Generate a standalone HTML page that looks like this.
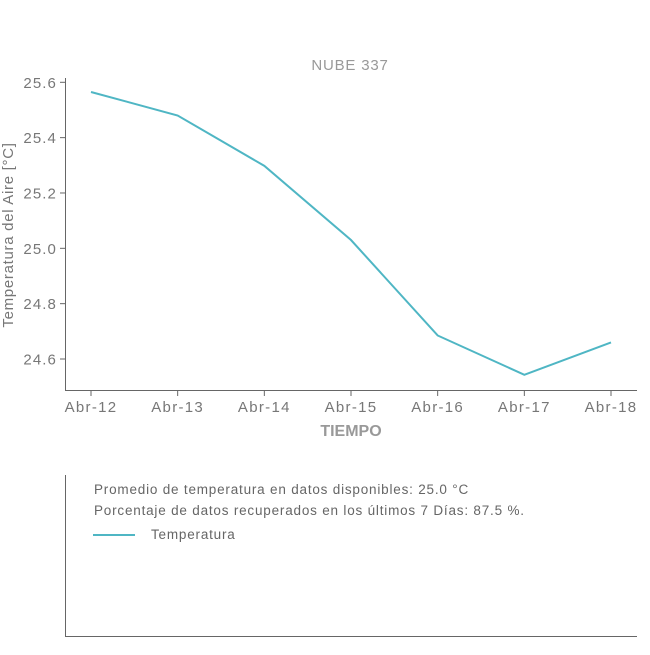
<!DOCTYPE html>
<html><head><meta charset="utf-8"><style>
body{margin:0;background:#fff;font-family:"Liberation Sans",sans-serif;}
svg text{font-family:"Liberation Sans",sans-serif;}
</style></head><body>
<svg width="650" height="650">
<text x="350" y="70" text-anchor="middle" font-size="15" fill="#999" letter-spacing="0.8">NUBE 337</text>
<g id="axes"></g>
<text transform="translate(13,235) rotate(-90)" text-anchor="middle" font-size="15" fill="#777" letter-spacing="0.7">Temperatura del Aire [°C]</text>
<text x="351" y="436" text-anchor="middle" font-size="16" font-weight="bold" fill="#999">TIEMPO</text>
<g>
<line x1="65.5" y1="475" x2="65.5" y2="637" stroke="#666" stroke-width="1"/>
<line x1="65" y1="636.5" x2="637" y2="636.5" stroke="#666" stroke-width="1"/>
<text x="94" y="494" font-size="13.5" fill="#666" letter-spacing="0.8">Promedio de temperatura en datos disponibles: 25.0 °C</text>
<text x="94" y="515" font-size="13.5" fill="#666" letter-spacing="0.8">Porcentaje de datos recuperados en los últimos 7 Días: 87.5 %.</text>
<line x1="93" y1="535" x2="135" y2="535" stroke="#4fb6c4" stroke-width="2"/>
<text x="151" y="539" font-size="13.5" fill="#666" letter-spacing="0.8">Temperatura</text>
</g>
</svg>
<script>
const categories=["Abr-12","Abr-13","Abr-14","Abr-15","Abr-16","Abr-17","Abr-18"];
const temps=[25.565,25.48,25.298,25.03,24.685,24.543,24.66];
const yTicks=[24.6,24.8,25.0,25.2,25.4,25.6];
const NS="http://www.w3.org/2000/svg";
const g=document.getElementById('axes');
const xs=i=>91+i*(611-91)/(categories.length-1);
const ys=v=>359-(v-24.6)*(359-82.3)/1.0;
function mk(t,a){const e=document.createElementNS(NS,t);for(const k in a)e.setAttribute(k,a[k]);g.appendChild(e);return e;}
let ax=mk('path',{d:'M65.5,78V390.5H637',fill:'none',stroke:'#666','stroke-width':1});


yTicks.forEach(v=>{
 const y=ys(v);
 let l=mk('line',{x1:60,x2:65.5,y1:y,y2:y,stroke:'#666'});
 
 
 let t=mk('text',{x:57,y:y+5.5,'text-anchor':'end','font-size':15,fill:'#777','letter-spacing':1.1});
 t.textContent=v.toFixed(1);
 
 
});
categories.forEach((c,i)=>{
 const x=xs(i);
 let l=mk('line',{x1:x,x2:x,y1:390.5,y2:396,stroke:'#666'});
 
 
 let t=mk('text',{x:x,y:412,'text-anchor':'middle','font-size':15,fill:'#777','letter-spacing':1.3});
 t.textContent=c;
 
 
});
let p=mk('polyline',{points:temps.map((v,i)=>xs(i)+','+ys(v)).join(' '),fill:'none',stroke:'#4fb6c4','stroke-width':2});


</script>
</body></html>
